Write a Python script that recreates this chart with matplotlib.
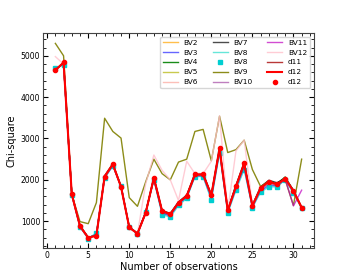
import matplotlib
matplotlib.use("Agg")
import matplotlib.pyplot as plt
from matplotlib.ticker import MultipleLocator

obs = list(range(1, 32))

d12 = [4650, 4840, 1650, 880, 600, 650, 2080, 2380, 1830, 850, 700, 1200, 2050, 1250, 1170,
       1450, 1610, 2130, 2130, 1630, 2760, 1260, 1840, 2400, 1370, 1800, 1960, 1890, 2030, 1730, 1330]
d11 = [4660, 4830, 1660, 890, 610, 660, 2090, 2370, 1840, 860, 710, 1210, 2040, 1240, 1180,
       1440, 1620, 2120, 2140, 1620, 2740, 1270, 1850, 2380, 1380, 1810, 1970, 1900, 2040, 1740, 1340]
bv2 = [4670, 4820, 1650, 880, 600, 660, 2070, 2360, 1830, 850, 700, 1210, 2030, 1230, 1160,
       1440, 1600, 2110, 2120, 1610, 2720, 1260, 1830, 2370, 1370, 1780, 1930, 1880, 2020, 1730, 1330]
bv3 = [4680, 4800, 1640, 870, 590, 690, 2050, 2340, 1850, 860, 690, 1220, 2010, 1190, 1120,
       1400, 1570, 2090, 2090, 1540, 2680, 1220, 1780, 2280, 1340, 1730, 1860, 1850, 2000, 1700, 1320]
bv4 = [4660, 4830, 1650, 880, 600, 660, 2080, 2370, 1840, 850, 700, 1200, 2040, 1240, 1170,
       1450, 1610, 2130, 2130, 1620, 2750, 1270, 1850, 2390, 1380, 1820, 1970, 1910, 2070, 1740, 1330]
bv5 = [4660, 4830, 1650, 880, 600, 650, 2080, 2370, 1830, 850, 700, 1200, 2040, 1250, 1170,
       1450, 1610, 2120, 2130, 1630, 2750, 1260, 1840, 2390, 1370, 1790, 1950, 1880, 2020, 1720, 1330]
bv6 = [4650, 4830, 1650, 880, 600, 660, 2070, 2370, 1830, 850, 700, 1200, 2040, 1240, 1170,
       1450, 1600, 2120, 2120, 1620, 2750, 1260, 1830, 2390, 1370, 1790, 1950, 1880, 2020, 1730, 1330]
bv7 = [4660, 4830, 1660, 890, 610, 660, 2100, 2390, 1840, 860, 710, 1210, 2060, 1260, 1190,
       1470, 1630, 2150, 2150, 1640, 2770, 1280, 1870, 2420, 1390, 1830, 1990, 1930, 2040, 1750, 1330]
bv8 = [4700, 4780, 1640, 860, 580, 720, 2040, 2340, 1860, 870, 680, 1230, 2000, 1160, 1100,
       1380, 1550, 2080, 2080, 1510, 2650, 1200, 1750, 2250, 1330, 1700, 1830, 1830, 2000, 1680, 1310]
bv9 = [5300, 5000, 1650, 990, 940, 1450, 3490, 3170, 3010, 1570, 1360, 1950, 2500, 2150, 2000,
       2430, 2500, 3170, 3220, 2460, 3540, 2660, 2730, 2960, 2250, 1840, 1970, 1900, 2000, 1380, 2500]
bv10 = [4670, 4810, 1650, 870, 590, 680, 2060, 2350, 1840, 850, 700, 1210, 2020, 1210, 1140,
        1420, 1590, 2100, 2100, 1570, 2700, 1240, 1800, 2320, 1350, 1760, 1900, 1860, 2010, 1710, 1320]
bv11 = [4660, 4830, 1650, 880, 600, 660, 2080, 2370, 1830, 850, 700, 1200, 2040, 1240, 1170,
        1450, 1610, 2120, 2130, 1620, 2750, 1260, 1840, 2390, 1370, 1800, 1960, 1890, 2020, 1370, 1750]
bv12 = [4980, 4800, 1650, 880, 600, 650, 2080, 2380, 1830, 850, 700, 1900, 2600, 2230, 2000,
        1500, 2450, 2150, 2150, 2450, 3550, 1250, 2700, 2960, 1400, 1800, 1960, 1890, 2030, 1730, 1330]

fig = plt.figure(figsize=(3.5, 2.8), dpi=100)
ax = fig.add_axes([0.123, 0.114, 0.774, 0.768])

lw = 1.0
ax.plot(obs, bv2, color="orange", lw=lw, alpha=0.7, label="BV2")
ax.plot(obs, bv3, color="blue", lw=lw, alpha=0.6, label="BV3")
ax.plot(obs, bv4, color="green", lw=lw, alpha=0.9, label="BV4")
ax.plot(obs, bv5, color="#bcbd22", lw=lw, alpha=0.8, label="BV5")
ax.plot(obs, bv6, color="salmon", lw=lw, alpha=0.5, label="BV6")
ax.plot(obs, bv7, color="black", lw=lw, alpha=0.7, label="BV7")
ax.plot(obs, bv8, color="turquoise", lw=lw, alpha=0.8, label="BV8")
ax.plot(obs, bv8, ls="none", marker="s", ms=3, color="darkturquoise", label="BV8")
ax.plot(obs, bv9, color="olive", lw=lw, alpha=0.9, label="BV9")
ax.plot(obs, bv10, color="purple", lw=lw, alpha=0.5, label="BV10")
ax.plot(obs, bv11, color="m", lw=lw, alpha=0.7, label="BV11")
ax.plot(obs, bv12, color="pink", lw=lw, alpha=0.8, label="BV12")
ax.plot(obs, d11, color="firebrick", lw=lw, alpha=0.9, label="d11")
ax.plot(obs, d12, color="red", lw=1.5, label="d12")
ax.plot(obs, d12, ls="none", marker="o", ms=3, color="red", label="d12")

ax.set_xlim(-0.5, 32.5)
ax.set_ylim(350, 5550)
ax.xaxis.set_major_locator(MultipleLocator(5))
ax.xaxis.set_minor_locator(MultipleLocator(1))
ax.yaxis.set_major_locator(MultipleLocator(1000))
ax.yaxis.set_minor_locator(MultipleLocator(200))
ax.tick_params(which="both", direction="in", top=True, right=True, labelsize=5.5, pad=2)
ax.tick_params(which="major", length=3.5)
ax.tick_params(which="minor", length=2)
for s in ax.spines.values():
    s.set_color("#444444")
ax.set_xlabel("Number of observations", fontsize=7, labelpad=1.5)
ax.set_ylabel("Chi-square", fontsize=7, labelpad=3)

ax.legend(ncol=3, loc="upper right", fontsize=5.3, frameon=True, handlelength=2.0,
          columnspacing=2.0, labelspacing=0.5, borderpad=0.4, handletextpad=0.8)

fig.savefig("out.png", dpi=100)
